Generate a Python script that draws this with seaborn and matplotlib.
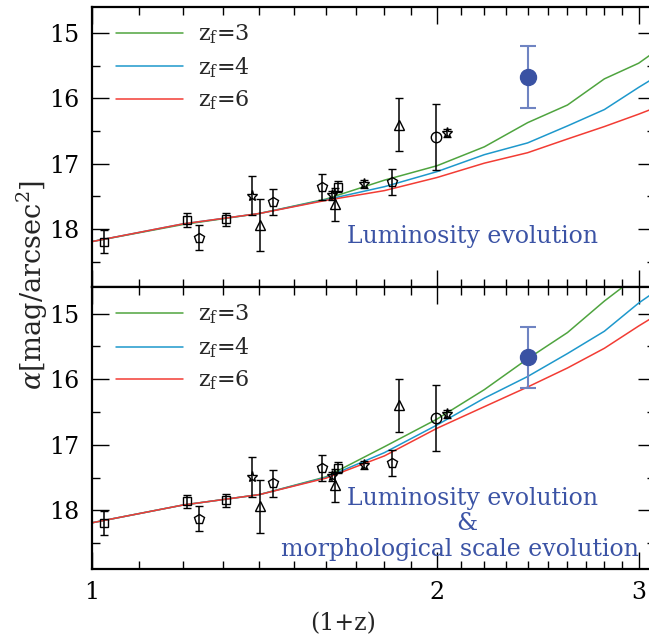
import numpy as np
import pandas as pd
import matplotlib
matplotlib.use("Agg")
import matplotlib.pyplot as plt
import seaborn as sns
from matplotlib.ticker import FixedLocator, NullFormatter, FixedFormatter

# ---------------- data ----------------
onepz = [1.0, 1.2, 1.4, 1.6, 1.8, 2.0, 2.2, 2.4, 2.6, 2.8, 3.0, 3.2]

lum_zf3 = [18.19, 17.93, 17.76, 17.54, 17.25, 17.03, 16.74, 16.37, 16.10, 15.70, 15.46, 15.11]
lum_zf4 = [18.19, 17.92, 17.76, 17.55, 17.35, 17.12, 16.86, 16.68, 16.42, 16.17, 15.83, 15.53]
lum_zf6 = [18.19, 17.92, 17.76, 17.56, 17.41, 17.21, 16.99, 16.83, 16.62, 16.43, 16.24, 16.05]

morph_zf3 = [18.19, 17.92, 17.76, 17.49, 17.03, 16.61, 16.16, 15.69, 15.29, 14.81, 14.41, 14.00]
morph_zf4 = [18.19, 17.92, 17.76, 17.50, 17.12, 16.70, 16.29, 15.96, 15.61, 15.27, 14.84, 14.50]
morph_zf6 = [18.19, 17.92, 17.76, 17.51, 17.17, 16.75, 16.42, 16.12, 15.83, 15.53, 15.19, 14.89]

zf_labels = [r"$\mathrm{z_f}$=3", r"$\mathrm{z_f}$=4", r"$\mathrm{z_f}$=6"]
zf_colors = ["#4fa43f", "#1e98cc", "#f23c34"]

obs_x = [1.024, 1.211, 1.241, 1.309, 1.380, 1.402, 1.439, 1.589, 1.621, 1.629,
         1.640, 1.729, 1.829, 1.853, 1.996, 2.039]
obs_y = [18.19, 17.86, 18.13, 17.85, 17.49, 17.94, 17.59, 17.35, 17.48, 17.62,
         17.35, 17.31, 17.28, 16.40, 16.59, 16.53]
obs_err = [0.18, 0.10, 0.19, 0.10, 0.30, 0.40, 0.20, 0.20, 0.07, 0.25,
           0.08, 0.06, 0.20, 0.40, 0.50, 0.06]
obs_marker = ["s", "s", "p", "s", "*", "^", "p", "p", "*", "^",
              "s", "*", "p", "^", "o", "*"]

new_x = [2.40]
new_y = [15.67]
new_err = [0.47]

top_text = ["Luminosity evolution"]
bottom_text = ["Luminosity evolution", "&", "morphological scale evolution"]

yticks_major = [15, 16, 17, 18]
yticks_minor = [15.5, 16.5, 17.5, 18.5]
xticks_major = [1, 2, 3]
xticks_minor = [1.1, 1.2, 1.3, 1.4, 1.5, 1.6, 1.7, 1.8, 1.9,
                2.1, 2.2, 2.3, 2.4, 2.5, 2.6, 2.7, 2.8, 2.9, 3.1]

# ---------------- style ----------------
sns.set_theme(style="ticks")
plt.rcParams["font.family"] = ["DejaVu Serif"]
plt.rcParams["mathtext.fontset"] = "dejavuserif"

TEXT_BLUE = "#3b53a5"

fig = plt.figure(figsize=(6.49, 6.41), dpi=100)
W, H = 649.0, 641.0
left = 92 / W
width = (655 - 92) / W
ax_top = fig.add_axes([left, 1 - 287.3 / H, width, 280.3 / H])
ax_bot = fig.add_axes([left, 1 - 568.7 / H, width, 281.4 / H])

models = [[lum_zf3, lum_zf4, lum_zf6], [morph_zf3, morph_zf4, morph_zf6]]
text_pos = [[(0.675, 0.182)],
            [(0.675, 0.251), (0.666, 0.159), (0.654, 0.070)]]

for ax, series, txts, poss in zip([ax_top, ax_bot], models,
                                  [top_text, bottom_text], text_pos):
    for vals, lab, col in zip(series, zf_labels, zf_colors):
        df = pd.DataFrame({"onepz": onepz, "alpha": vals})
        sns.lineplot(data=df, x="onepz", y="alpha", ax=ax, color=col,
                     linewidth=1.1, label=lab, sort=False)
    for x, y, e, m in zip(obs_x, obs_y, obs_err, obs_marker):
        ms = {"s": 5.5, "p": 7.0, "*": 8.0, "^": 6.5, "o": 7.5}[m]
        ax.errorbar([x], [y], yerr=[e], fmt=m, ms=ms, mfc="none", mec="black",
                    mew=1.0, ecolor="black", elinewidth=1.1, capsize=3.2,
                    capthick=1.1, zorder=3)
    ax.errorbar(new_x, new_y, yerr=new_err, fmt="o", ms=11.5, color="#3a52a3",
                ecolor="#6f84c2", elinewidth=1.5, capsize=6, capthick=1.5, zorder=4)

    ax.set_xscale("log")
    ax.set_xlim(1, 3.1)
    ax.set_ylim(18.89, 14.6)
    ax.xaxis.set_major_locator(FixedLocator(xticks_major))
    ax.xaxis.set_minor_locator(FixedLocator(xticks_minor))
    ax.xaxis.set_minor_formatter(NullFormatter())
    ax.yaxis.set_major_locator(FixedLocator(yticks_major))
    ax.yaxis.set_minor_locator(FixedLocator(yticks_minor))
    ax.tick_params(which="both", direction="in", top=True, right=True,
                   width=1.0, color="black", labelsize=17, labelcolor="black")
    ax.tick_params(which="major", length=12.5)
    ax.tick_params(which="minor", length=6)
    ax.tick_params(axis="y", pad=9)
    ax.tick_params(axis="x", pad=9)
    for sp in ax.spines.values():
        sp.set_linewidth(1.6)
        sp.set_color("black")
    ax.set_xlabel("")
    ax.set_ylabel("")
    for t, (tx, ty) in zip(txts, poss):
        ax.text(tx, ty, t, transform=ax.transAxes, ha="center", va="center",
                color=TEXT_BLUE, fontsize=17)
    ax.legend(loc="upper left", bbox_to_anchor=(0.015, 1.0), frameon=False,
              fontsize=16, handlelength=3.0, handletextpad=0.68,
              labelspacing=0.4, borderaxespad=0.3)

ax_top.xaxis.set_major_formatter(NullFormatter())
ax_bot.xaxis.set_major_formatter(FixedFormatter(["1", "2", "3"]))
ax_bot.set_xlabel("(1+z)", fontsize=17)
ax_bot.xaxis.set_label_coords(0.446, -0.155)

fig.text(32 / W, 1 - 285 / H, r"$\alpha$[mag/arcsec$^2$]", rotation=90,
         ha="center", va="center", fontsize=19.5)

fig.savefig("out.png", dpi=100)
